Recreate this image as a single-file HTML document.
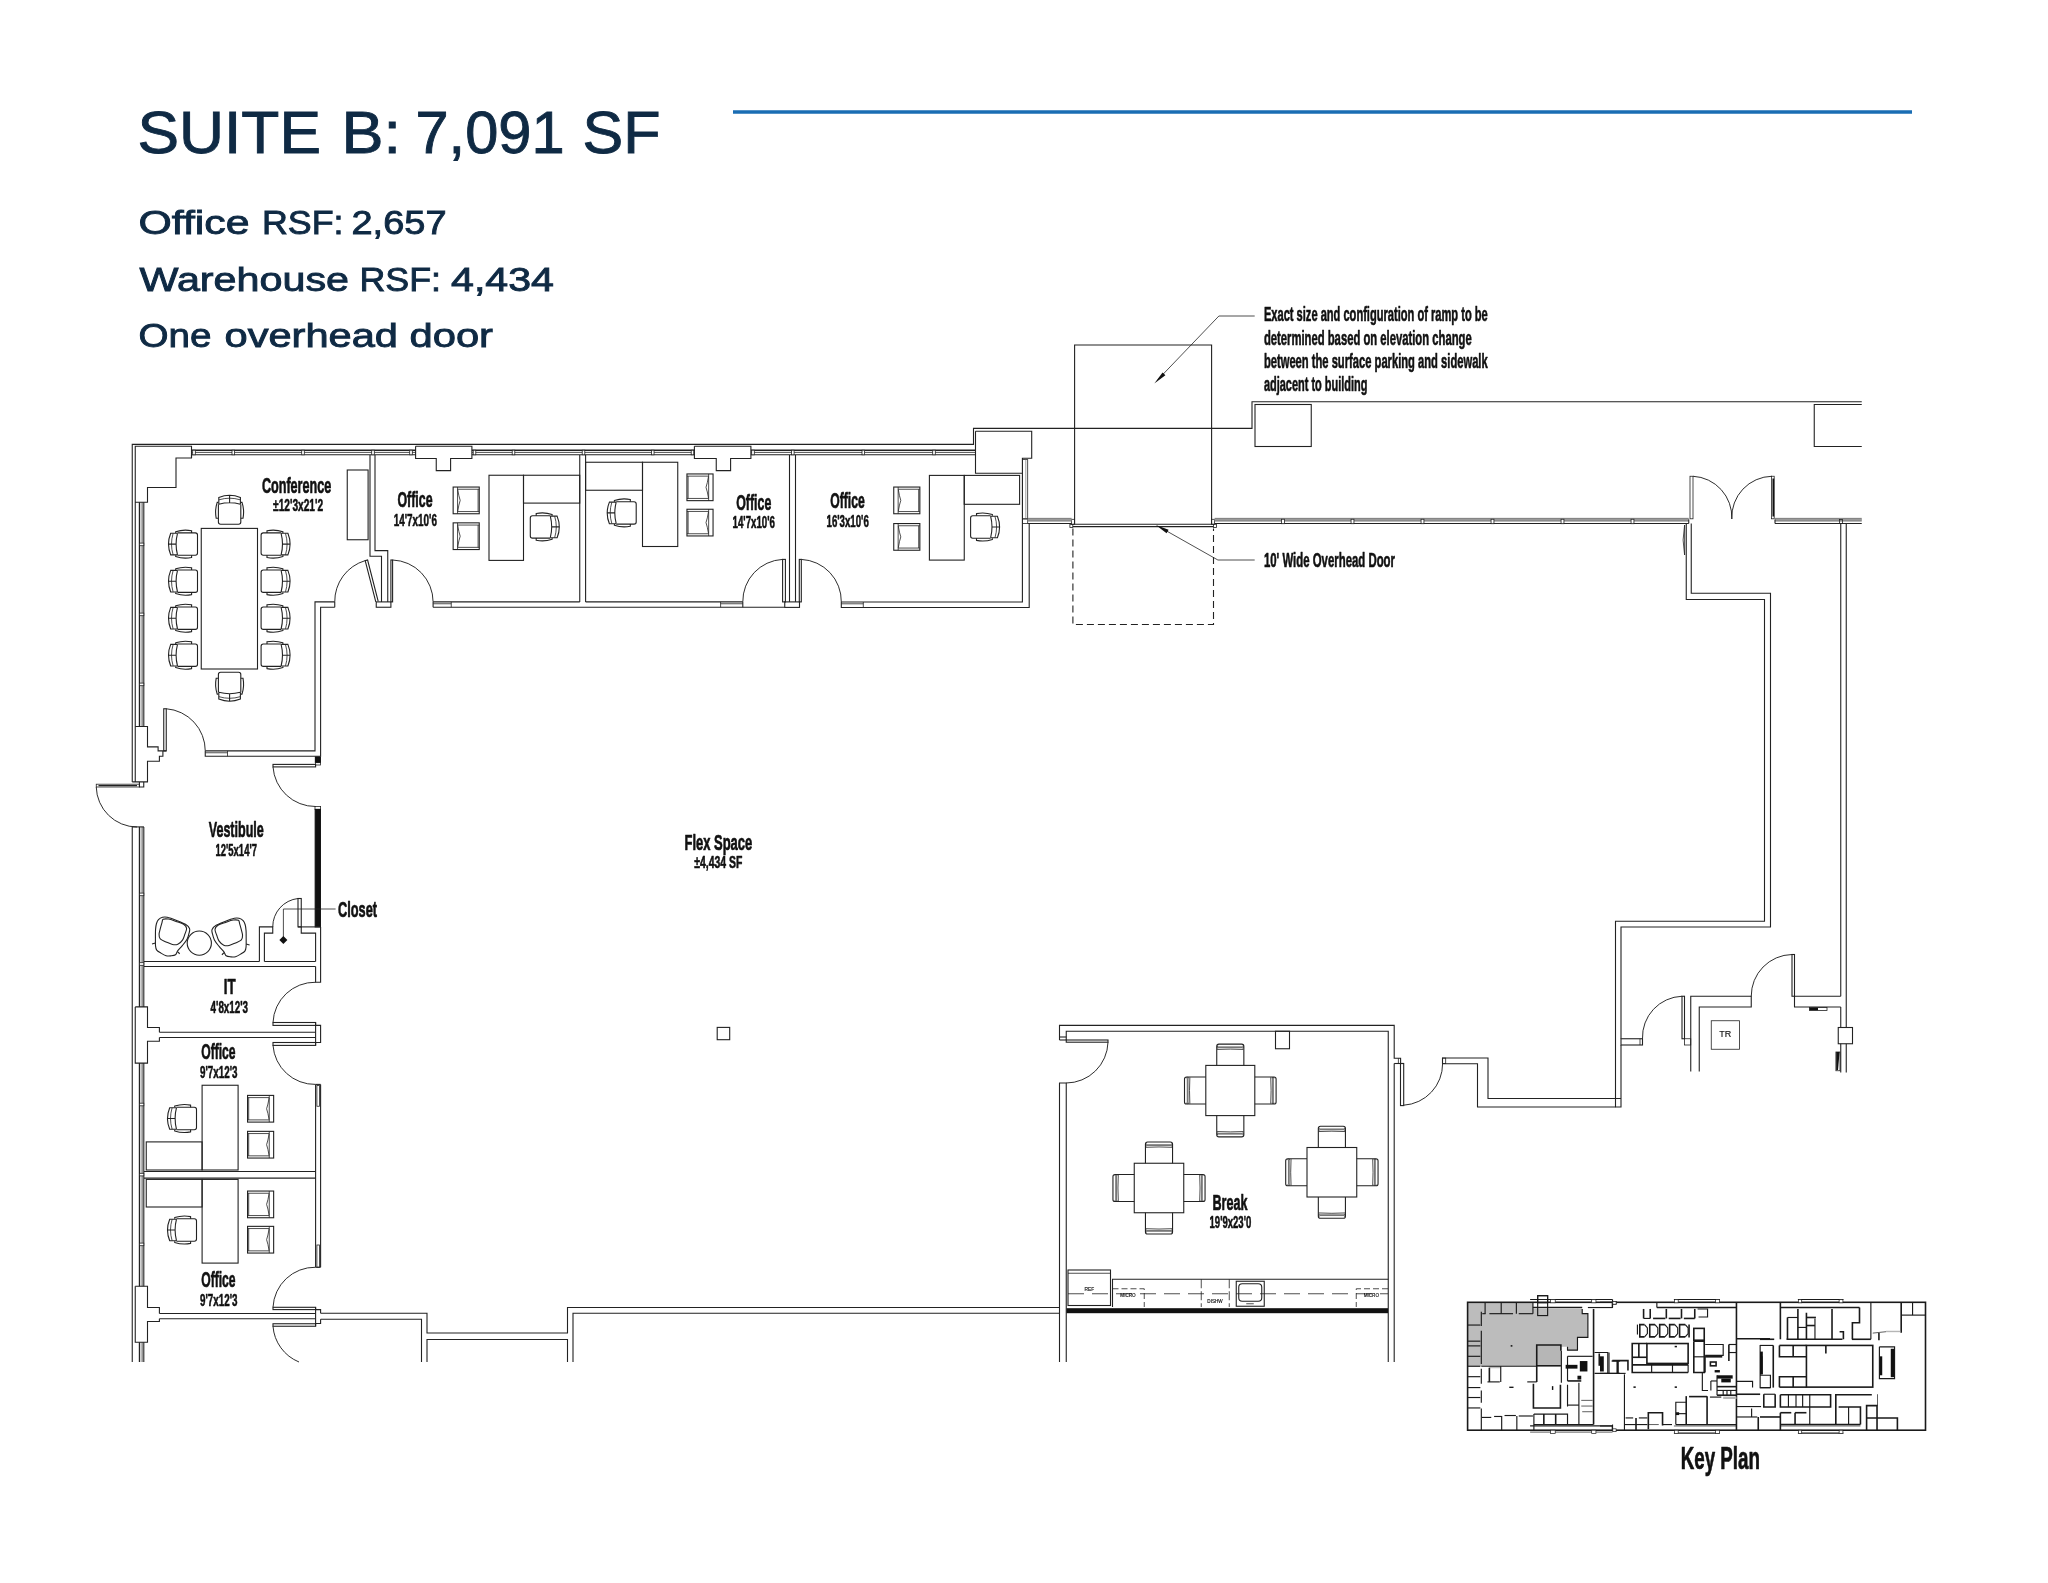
<!DOCTYPE html>
<html><head><meta charset="utf-8"><title>Suite B</title>
<style>
html,body{margin:0;padding:0;background:#fff;}
body{width:2048px;height:1583px;overflow:hidden;font-family:"Liberation Sans",sans-serif;}
svg{display:block;font-family:"Liberation Sans",sans-serif;will-change:transform;background:transparent;}
svg path,svg rect,svg circle{fill:none;stroke:#222;stroke-width:1.1;}
svg .t{stroke-width:0.8;}
svg .u{stroke-width:0.7;stroke:#777;}
svg .gb{fill:#858585;stroke:none;}
svg .gl{stroke:#a8a8a8;stroke-width:0.8;}
svg .h{stroke-width:1.4;}
svg .h2{stroke-width:1.7;stroke:#111;}
svg .a{stroke-width:0.95;}
svg .k{fill:#111;stroke:#111;}
svg .kf{fill:#111;stroke:none;}
svg .g{fill:#bcbcbc;stroke:none;}
svg .g2{fill:#b6b6b6;stroke:none;}
svg .w{fill:#fff;}
svg .kp{stroke:#1a1a1a;stroke-width:1.15;}
svg .kp2{stroke:#1a1a1a;stroke-width:1.6;}
svg .kpt{stroke:#1a1a1a;stroke-width:0.7;}
svg .ds{stroke-dasharray:7 4;}
svg text{fill:#111;stroke:none;}
svg .lb{font-weight:bold;stroke:#111;stroke-width:0.7px;stroke-linejoin:round;}
svg .ld{stroke-width:0.55px;}
svg .ln{stroke-width:0.6px;}
svg .hd{fill:#0f2a44;stroke:#0f2a44;stroke-width:0.9px;}
svg .hs{fill:#0f2a44;stroke:#0f2a44;stroke-width:0.9px;}
svg .tiny{font-weight:normal;fill:#111;stroke:#111;stroke-width:0.15px;}
svg .bl{stroke:#1a6db3;stroke-width:3.6;}
</style></head>
<body>
<svg width="2048" height="1583" viewBox="0 0 2048 1583">
<defs>
<g id="ch">
<path d="M-10.8 -5.8V-12.6Q0 -17 10.8 -12.6V-5.8M-10.8 -5.8Q0 -8.6 10.8 -5.8M0 -14.8V-7.2"/>
<path d="M-10.6 -10.2Q0 -13.4 10.6 -10.2" class="t"/>
<path d="M-11.2 -7.6H-12.4Q-15 0 -13.4 8.3H-11.2M11.2 -7.6H12.4Q15 0 13.4 8.3H11.2"/>
<path d="M-11.2 -5.8V12Q-11.2 14.2 -9 14.2H9Q11.2 14.2 11.2 12V-5.8"/>
</g>
<g id="gc">
<rect x="-13.05" y="-13.35" width="26.1" height="26.7"/>
<path d="M-8.65 -13.35V13.35M-8.65 -11.15H13.05M-8.65 11.15H13.05M11.9 -11.15V11.15" class="t"/>
<path d="M-8.5 -10.8Q-7.4 -4 -6 0Q-7.4 4 -8.5 10.8" class="t"/>
</g>
<g id="bc">
<path d="M-13.55 10.65V-8.6Q-13.55 -10.65 -11.4 -10.65H11.4Q13.55 -10.65 13.55 -8.6V10.65"/>
<path d="M-12.4 -7.5H12.4" style="stroke:#777;stroke-width:1.8"/>
<path d="M-13.2 -5.3Q0 -6 13.2 -5.3M-12.6 -9Q-13.6 -7.6 -12.6 -6.2M12.6 -9Q13.6 -7.6 12.6 -6.2" class="t"/>
</g>
<g id="lc">
<path d="M-12.5 16.5Q-17 -2 -15 -13Q-13.5 -18.5 -7 -19Q4 -20 12 -18.5Q17 -17.5 17.5 -12Q18 0 14.5 16.5Q13 20.5 8 20.5H-6Q-11.5 20.5 -12.5 16.5Z"/>
<path d="M-10 -14.5Q0 -16.5 11.5 -14.5Q14 -14 14 -11L12.5 4.5Q12 8 8.5 8H-6.5Q-10 8 -10.5 4.5L-12.5 -11Q-12.8 -14 -10 -14.5Z"/>
<path d="M-14 17.5L-17 19.5M15.5 17.5L18 19.5" class="t"/>
</g>
</defs>
<text x="137.5" y="152.5" font-size="59" textLength="183.5" lengthAdjust="spacingAndGlyphs" class="hd">SUITE</text>
<text x="341.5" y="152.5" font-size="59" textLength="59.5" lengthAdjust="spacingAndGlyphs" class="hd">B:</text>
<text x="415.5" y="152.5" font-size="59" textLength="149" lengthAdjust="spacingAndGlyphs" class="hd">7,091</text>
<text x="582.5" y="152.5" font-size="59" textLength="78" lengthAdjust="spacingAndGlyphs" class="hd">SF</text>
<text x="138.5" y="234.2" font-size="34" textLength="111" lengthAdjust="spacingAndGlyphs" class="hs">Office</text>
<text x="262" y="234.2" font-size="34" textLength="81.5" lengthAdjust="spacingAndGlyphs" class="hs">RSF:</text>
<text x="351.5" y="234.2" font-size="34" textLength="95" lengthAdjust="spacingAndGlyphs" class="hs">2,657</text>
<text x="139.5" y="291.1" font-size="34" textLength="209.5" lengthAdjust="spacingAndGlyphs" class="hs">Warehouse</text>
<text x="359.5" y="291.1" font-size="34" textLength="81.5" lengthAdjust="spacingAndGlyphs" class="hs">RSF:</text>
<text x="451" y="291.1" font-size="34" textLength="103" lengthAdjust="spacingAndGlyphs" class="hs">4,434</text>
<text x="138.5" y="347.3" font-size="34" textLength="73" lengthAdjust="spacingAndGlyphs" class="hs">One</text>
<text x="224.5" y="347.3" font-size="34" textLength="173.5" lengthAdjust="spacingAndGlyphs" class="hs">overhead</text>
<text x="409.5" y="347.3" font-size="34" textLength="83.5" lengthAdjust="spacingAndGlyphs" class="hs">door</text>
<path d="M733 112L1912 112" class="bl"/>
<path d="M132.25 1362 L132.25 826.9"/>
<path d="M132.25 781.9 L132.25 444.4 L973.5 444.4 L973.5 428.4 L1252 428.4 L1252 401.75 L1861.75 401.75"/>
<path d="M135.25 781.9 L135.25 446.25 L191.5 446.25 L191.5 458 L176 458 L176 487.5 L147.5 487.5 L147.5 502.25 L135.25 502.25"/>
<path d="M191.5 450.2L415.6 450.2" class="h"/>
<path d="M191.5 454.8L415.6 454.8"/>
<path d="M191.5 452.4L415.6 452.4" class="t"/>
<rect x="192.7" y="450.2" width="2.6" height="4.6" class="t w"/>
<rect x="232" y="450.2" width="2.6" height="4.6" class="t w"/>
<rect x="301.7" y="450.2" width="2.6" height="4.6" class="t w"/>
<rect x="371.7" y="450.2" width="2.6" height="4.6" class="t w"/>
<rect x="409.7" y="450.2" width="2.6" height="4.6" class="t w"/>
<path d="M471.9 450.2L694.4 450.2" class="h"/>
<path d="M471.9 454.8L694.4 454.8"/>
<path d="M471.9 452.4L694.4 452.4" class="t"/>
<rect x="473.2" y="450.2" width="2.6" height="4.6" class="t w"/>
<rect x="512.2" y="450.2" width="2.6" height="4.6" class="t w"/>
<rect x="582.2" y="450.2" width="2.6" height="4.6" class="t w"/>
<rect x="651.45" y="450.2" width="2.6" height="4.6" class="t w"/>
<rect x="691.2" y="450.2" width="2.6" height="4.6" class="t w"/>
<path d="M750.9 450.2L975.5 450.2" class="h"/>
<path d="M750.9 454.8L975.5 454.8"/>
<path d="M750.9 452.4L975.5 452.4" class="t"/>
<rect x="751.7" y="450.2" width="2.6" height="4.6" class="t w"/>
<rect x="791.5" y="450.2" width="2.6" height="4.6" class="t w"/>
<rect x="862" y="450.2" width="2.6" height="4.6" class="t w"/>
<rect x="932.7" y="450.2" width="2.6" height="4.6" class="t w"/>
<path d="M191.5 455L191.5 458"/>
<path d="M139.5 502.25L139.5 726.5" class="h"/>
<path d="M143.8 502.25L143.8 726.5"/>
<path d="M142.1 502.25L142.1 726.5" class="t"/>
<rect x="139.5" y="543.1" width="4.3" height="2.6" class="t w"/>
<rect x="139.5" y="613.1" width="4.3" height="2.6" class="t w"/>
<rect x="139.5" y="683.1" width="4.3" height="2.6" class="t w"/>
<path d="M139.5 826.9L139.5 1006.9" class="h"/>
<path d="M143.8 826.9L143.8 1006.9"/>
<path d="M142.1 826.9L142.1 1006.9" class="t"/>
<rect x="139.5" y="893.1" width="4.3" height="2.6" class="t w"/>
<rect x="139.5" y="962.7" width="4.3" height="2.6" class="t w"/>
<path d="M132.25 826.9L144 826.9"/>
<path d="M139.5 1063.1L139.5 1286.25" class="h"/>
<path d="M143.8 1063.1L143.8 1286.25"/>
<path d="M142.1 1063.1L142.1 1286.25" class="t"/>
<rect x="139.5" y="1103.2" width="4.3" height="2.6" class="t w"/>
<rect x="139.5" y="1173.3" width="4.3" height="2.6" class="t w"/>
<rect x="139.5" y="1243.1" width="4.3" height="2.6" class="t w"/>
<path d="M139.5 1342.25L139.5 1362" class="h"/>
<path d="M143.8 1342.25L143.8 1362"/>
<path d="M142.1 1342.25L142.1 1362" class="t"/>
<path d="M415.6 446.25 L415.6 458.5 L436.25 458.5 L436.25 470.6 L450.6 470.6 L450.6 458.5 L471.9 458.5 L471.9 446.25 L415.6 446.25"/>
<path d="M694.4 446.25 L694.4 458.5 L716.25 458.5 L716.25 470.6 L730.6 470.6 L730.6 458.5 L750.9 458.5 L750.9 446.25 L694.4 446.25"/>
<rect x="201.25" y="528.4" width="56.25" height="140.6"/>
<use href="#ch" transform="translate(183.3 544.1) rotate(-90)"/>
<use href="#ch" transform="translate(275.3 544.1) rotate(90)"/>
<use href="#ch" transform="translate(183.3 581.2) rotate(-90)"/>
<use href="#ch" transform="translate(275.3 581.2) rotate(90)"/>
<use href="#ch" transform="translate(183.3 618.2) rotate(-90)"/>
<use href="#ch" transform="translate(275.3 618.2) rotate(90)"/>
<use href="#ch" transform="translate(183.3 655.2) rotate(-90)"/>
<use href="#ch" transform="translate(275.3 655.2) rotate(90)"/>
<use href="#ch" transform="translate(229.6 510)"/>
<use href="#ch" transform="translate(229.6 686.5) rotate(180)"/>
<rect x="347.25" y="470" width="20.85" height="69.75"/>
<path d="M370 455 L370 556.25 L381.5 556.25 L381.5 601.9"/>
<path d="M375 455 L375 550.6 L387.75 550.6 L387.75 601.9"/>
<rect x="376.25" y="601.9" width="14.65" height="5.35"/>
<path d="M375.8 601.9 L365.2 560.6 L367.6 560 L378.2 601.3"/>
<path d="M365.2 560.6A42.5 42.5 0 0 0 334.75 601.9" class="a"/>
<path d="M334.75 601.9L334.75 607.25"/>
<path d="M334.75 601.9 L315 601.9 L315 750.9 L205.25 750.9"/>
<path d="M334.75 607.25 L320.6 607.25 L320.6 756.25 L205.25 756.25 L205.25 750.9"/>
<path d="M205.25 752.75L227.5 752.75" class="t"/>
<path d="M227.5 750.9L227.5 756.25" class="t"/>
<rect x="315.4" y="757" width="5" height="5.5" class="k"/>
<rect x="315.4" y="762.5" width="5" height="2.5" class="t"/>
<rect x="163.75" y="708.75" width="2.5" height="42.15"/>
<path d="M166.25 708.75A42.2 42.2 0 0 1 205.25 750.9" class="a"/>
<path d="M135.25 726.5 L147.5 726.5 L147.5 746.9 L158.1 746.9 L158.1 750.9 L166.25 750.9"/>
<path d="M162.9 750.9 L162.9 756.25 L159.4 756.25 L159.4 761.25 L147.5 761.25 L147.5 781.9 L132.25 781.9"/>
<rect x="96.25" y="784.2" width="43.15" height="2.8" class="t"/>
<path d="M98.5 785.6L137 785.6" class="h"/>
<path d="M139.4 781.9 L139.4 787 L143.75 787 L143.75 781.9"/>
<path d="M96.25 787A41 41 0 0 0 137 827" class="a"/>
<rect x="273" y="764.4" width="42.6" height="2.5"/>
<path d="M273 766.9A42.5 42.5 0 0 0 315.5 806.5" class="a"/>
<rect x="315" y="806.5" width="5.6" height="2.9" class="t"/>
<rect x="315.2" y="809.4" width="5.2" height="117.5" class="k"/>
<rect x="298" y="898.5" width="3.25" height="28.4"/>
<path d="M298 898.5A28.4 28.4 0 0 0 272.75 926.9" class="a"/>
<path d="M259.4 961.5 L259.4 926.9 L272.75 926.9 L272.75 933.1 L264.4 933.1 L264.4 961.5"/>
<path d="M298 926.9 L320.6 926.9"/>
<path d="M301.25 926.9 L301.25 933.1 L315.6 933.1 L315.6 961.5"/>
<path d="M283.4 940 L283.4 909 L335.6 909" class="t"/>
<path d="M283.4 936L287.4 940L283.4 944L279.4 940Z" class="kf"/>
<path d="M144 961.5L259.4 961.5"/>
<path d="M264.4 961.5L315.6 961.5"/>
<path d="M144 966.5L315.6 966.5"/>
<path d="M320.6 926.9 L320.6 982.25 L315.6 982.25 L315.6 966.5"/>
<circle cx="199.3" cy="943.1" r="12.1"/>
<path d="M155.54 929.6C155.71 927.26 155.94 925.41 156.42 923.75C156.91 922.09 157.45 920.72 158.47 919.65C159.5 918.57 161.11 917.69 162.57 917.3C164.04 916.91 164.92 916.77 167.26 917.3C169.6 917.84 173.61 919.35 176.63 920.52C179.66 921.7 183.27 923.01 185.42 924.33C187.57 925.65 188.89 927.07 189.52 928.43C190.16 929.8 189.62 930.78 189.23 932.53C188.84 934.29 188.3 936.83 187.18 938.98C186.06 941.13 184.05 943.47 182.49 945.42C180.93 947.37 178.98 949.13 177.81 950.69C176.63 952.26 176.63 953.94 175.46 954.79C174.29 955.65 172.34 955.7 170.78 955.85C169.21 956 167.75 956.14 166.09 955.67C164.43 955.21 162.38 953.97 160.82 953.04C159.26 952.11 157.6 951.28 156.72 950.11C155.84 948.94 155.76 948.06 155.54 946.01C155.33 943.96 155.43 940.54 155.43 937.81C155.43 935.07 155.38 931.95 155.54 929.6Z"/>
<path d="M163.16 919.35C164.23 918.77 166.28 918.72 168.43 919.06C170.58 919.4 173.51 920.52 176.05 921.4C178.59 922.28 181.91 923.16 183.66 924.33C185.42 925.5 186.4 926.77 186.59 928.43C186.79 930.09 185.52 932.34 184.84 934.29C184.15 936.24 183.66 938.49 182.49 940.15C181.32 941.81 179.47 943.52 177.81 944.25C176.15 944.98 174.49 944.93 172.53 944.54C170.58 944.15 168.14 942.83 166.09 941.91C164.04 940.98 161.4 940.25 160.23 938.98C159.06 937.71 159.04 936.05 159.06 934.29C159.08 932.53 159.86 930.39 160.35 928.43C160.84 926.48 161.52 924.09 161.99 922.57C162.46 921.06 162.09 919.94 163.16 919.35Z"/>
<path d="M246.06 930.6C245.89 928.26 245.66 926.41 245.18 924.75C244.69 923.09 244.15 921.72 243.13 920.65C242.1 919.57 240.49 918.69 239.03 918.3C237.56 917.91 236.68 917.77 234.34 918.3C232 918.84 227.99 920.35 224.97 921.52C221.94 922.7 218.33 924.01 216.18 925.33C214.03 926.65 212.71 928.07 212.08 929.43C211.44 930.8 211.98 931.78 212.37 933.53C212.76 935.29 213.3 937.83 214.42 939.98C215.54 942.13 217.55 944.47 219.11 946.42C220.67 948.37 222.62 950.13 223.79 951.69C224.97 953.26 224.97 954.94 226.14 955.79C227.31 956.65 229.26 956.7 230.82 956.85C232.39 957 233.85 957.14 235.51 956.67C237.17 956.21 239.22 954.97 240.78 954.04C242.34 953.11 244 952.28 244.88 951.11C245.76 949.94 245.84 949.06 246.06 947.01C246.27 944.96 246.17 941.54 246.17 938.81C246.17 936.07 246.22 932.95 246.06 930.6Z"/>
<path d="M238.44 920.35C237.37 919.77 235.32 919.72 233.17 920.06C231.02 920.4 228.09 921.52 225.55 922.4C223.01 923.28 219.69 924.16 217.94 925.33C216.18 926.5 215.2 927.77 215.01 929.43C214.81 931.09 216.08 933.34 216.76 935.29C217.45 937.24 217.94 939.49 219.11 941.15C220.28 942.81 222.13 944.52 223.79 945.25C225.45 945.98 227.11 945.93 229.07 945.54C231.02 945.15 233.46 943.83 235.51 942.91C237.56 941.98 240.2 941.25 241.37 939.98C242.54 938.71 242.56 937.05 242.54 935.29C242.52 933.53 241.74 931.39 241.25 929.43C240.76 927.48 240.08 925.09 239.61 923.57C239.14 922.06 239.51 920.94 238.44 920.35Z"/>
<path d="M152.03 943.96L155.43 942.96"/>
<path d="M249.57 944.96L246.17 943.96"/>
<path d="M177.51 951.57L179.68 953.74"/>
<path d="M224.09 952.57L221.92 954.74"/>
<rect x="273" y="1022.5" width="42.6" height="2.9"/>
<path d="M273 1022.5A42 42 0 0 1 315.6 982.25" class="a"/>
<path d="M315.6 1025.4 L320.6 1025.4 L320.6 1042.5 L315.6 1042.5"/>
<path d="M315.6 1022.5L315.6 1045.4"/>
<path d="M159.4 1032.25L315.6 1032.25"/>
<path d="M159.4 1037.5L315.6 1037.5"/>
<path d="M135.25 1006.9 L147.5 1006.9 L147.5 1027.5 L159.4 1027.5 L159.4 1032.25"/>
<path d="M159.4 1037.5 L159.4 1041.25 L147.5 1041.25 L147.5 1063.1 L135.25 1063.1 L135.25 1006.9"/>
<rect x="273" y="1042.5" width="42.6" height="2.9"/>
<path d="M273 1045.4A42 42 0 0 0 315.6 1084.4" class="a"/>
<path d="M315.6 1084.4 L320.6 1084.4"/>
<path d="M315.6 1084.4L315.6 1267.25"/>
<path d="M320.6 1084.4L320.6 1267.25"/>
<rect x="316.9" y="1085.5" width="2.5" height="20.75" class="t"/>
<rect x="202.1" y="1085.25" width="36" height="84.75"/>
<rect x="146.25" y="1141.9" width="55.85" height="28.1"/>
<use href="#ch" transform="translate(182.3 1118.5) rotate(-90)"/>
<use href="#gc" transform="translate(260.6 1108.75) rotate(180)"/>
<use href="#gc" transform="translate(260.6 1144.7) rotate(180)"/>
<path d="M144 1171.5L315.6 1171.5"/>
<path d="M144 1178.1L315.6 1178.1"/>
<rect x="146.25" y="1179.4" width="55.85" height="27.6"/>
<rect x="202.1" y="1179.4" width="36" height="83.7"/>
<use href="#ch" transform="translate(182.3 1230) rotate(-90)"/>
<use href="#gc" transform="translate(260.6 1204.4) rotate(180)"/>
<use href="#gc" transform="translate(260.6 1239.7) rotate(180)"/>
<rect x="316.9" y="1245" width="2.5" height="22.25" class="t"/>
<rect x="273" y="1307.3" width="42.6" height="2.3"/>
<path d="M273 1307.3A42 42 0 0 1 315.6 1267.25" class="a"/>
<path d="M315.6 1267.25L320.6 1267.25"/>
<path d="M159.4 1313.5L315.6 1313.5"/>
<path d="M159.4 1318.75L315.6 1318.75"/>
<path d="M135.25 1286.25 L147.5 1286.25 L147.5 1307.5 L159.4 1307.5 L159.4 1313.5"/>
<path d="M159.4 1318.75 L159.4 1321.5 L147.5 1321.5 L147.5 1342.25 L135.25 1342.25 L135.25 1286.25"/>
<path d="M315.6 1309.6 L320.6 1309.6 L320.6 1313.25"/>
<path d="M320.6 1319.25 L320.6 1323.5 L315.6 1323.5"/>
<path d="M315.6 1307.3L315.6 1326.25"/>
<rect x="273" y="1323.75" width="42.6" height="2.5"/>
<path d="M273 1326.25A42 42 0 0 0 299 1362" class="a"/>
<rect x="390.9" y="560" width="1.7" height="41.9"/>
<path d="M392.6 560A42 42 0 0 1 433.1 601.9" class="a"/>
<path d="M433.1 601.9L579.75 601.9"/>
<path d="M433.1 607.25L784.75 607.25"/>
<path d="M433.1 601.9 L433.1 607.25"/>
<path d="M433.1 603.75L451.25 603.75" class="t"/>
<path d="M451.25 601.9L451.25 607.25" class="t"/>
<path d="M579.75 455L579.75 601.9"/>
<path d="M585.6 455L585.6 601.9"/>
<rect x="489" y="475.25" width="34.5" height="85.15"/>
<rect x="523.5" y="475.25" width="56.25" height="27.85"/>
<use href="#ch" transform="translate(544.5 526.9) rotate(90)"/>
<use href="#gc" transform="translate(466.2 500.4)"/>
<use href="#gc" transform="translate(466.2 536.2)"/>
<rect x="585.6" y="462.25" width="56.9" height="28"/>
<rect x="642.5" y="462.25" width="35.25" height="84.25"/>
<use href="#ch" transform="translate(622 512.9) rotate(-90)"/>
<use href="#gc" transform="translate(700 487.3) rotate(180)"/>
<use href="#gc" transform="translate(700 522.6) rotate(180)"/>
<path d="M585.6 601.9L742.8 601.9"/>
<path d="M720.6 603.75L742.8 603.75" class="t"/>
<path d="M720.6 601.9L720.6 607.25" class="t"/>
<path d="M742.8 601.9L742.8 607.25"/>
<rect x="782.6" y="559.4" width="2.8" height="42.5"/>
<path d="M782.6 559.4A42 42 0 0 0 742.8 601.9" class="a"/>
<path d="M789.5 455L789.5 601.9"/>
<path d="M795.5 455L795.5 601.9"/>
<rect x="784.75" y="601.9" width="14.75" height="5.5"/>
<rect x="799.3" y="559.4" width="2" height="42.5"/>
<path d="M801.3 559.4A42 42 0 0 1 841.3 602" class="a"/>
<path d="M841.3 602 L1022.4 602 L1022.4 473.3"/>
<path d="M841.3 602 L841.3 607.5 L1029.2 607.5 L1029.2 523.6"/>
<path d="M841.3 603.8L863.3 603.8" class="t"/>
<path d="M863.3 602L863.3 607.5" class="t"/>
<rect x="929.4" y="475.4" width="34.85" height="84.7"/>
<rect x="964.25" y="475.4" width="55.35" height="28.9"/>
<use href="#ch" transform="translate(984.8 527) rotate(90)"/>
<use href="#gc" transform="translate(906.8 500.4)"/>
<use href="#gc" transform="translate(906.8 536.9)"/>
<path d="M975.5 431.3 L1031.7 431.3 L1031.7 458.2 L1022.4 458.2 L1022.4 473.3 L975.5 473.3 L975.5 431.3"/>
<rect x="1022.4" y="459.6" width="5.3" height="59.3" class="t"/>
<path d="M1025.8 459.6L1025.8 518.9" class="u"/>
<rect x="1022.4" y="518.9" width="5.3" height="4.6" class="t"/>
<path d="M1074.6 524.3 L1074.6 345 L1211.6 345 L1211.6 524.3"/>
<path d="M1072.8 524.3L1213.5 524.3"/>
<path d="M1072.8 526.6L1213.5 526.6"/>
<rect x="1071.6" y="519.3" width="3" height="5" class="t"/>
<rect x="1069.9" y="524.3" width="2.9" height="3.2" class="t"/>
<rect x="1211.6" y="519.3" width="3" height="5" class="t"/>
<rect x="1213.5" y="524.3" width="2.9" height="3.2" class="t"/>
<path d="M1072.9 528.5 L1072.9 624.5 L1213.5 624.5 L1213.5 528.5" class="ds"/>
<rect x="1027.7" y="517.85" width="43.9" height="3.7" class="gb"/>
<path d="M1027.7 519.75L1071.6 519.75" class="gl"/>
<path d="M1027.7 523.5L1071.6 523.5"/>
<rect x="1214.6" y="517.85" width="474.15" height="3.7" class="gb"/>
<path d="M1214.6 519.75L1688.75 519.75" class="gl"/>
<path d="M1214.6 523.5L1688.75 523.5"/>
<rect x="1281.55" y="519.25" width="2.9" height="4.45" class="t w"/>
<rect x="1351.05" y="519.25" width="2.9" height="4.45" class="t w"/>
<rect x="1421.05" y="519.25" width="2.9" height="4.45" class="t w"/>
<rect x="1491.05" y="519.25" width="2.9" height="4.45" class="t w"/>
<rect x="1561.05" y="519.25" width="2.9" height="4.45" class="t w"/>
<rect x="1631.05" y="519.25" width="2.9" height="4.45" class="t w"/>
<rect x="1775" y="517.85" width="86.75" height="3.7" class="gb"/>
<path d="M1775 519.75L1861.75 519.75" class="gl"/>
<path d="M1775 523.5L1861.75 523.5"/>
<rect x="1255" y="404.5" width="56.25" height="42"/>
<path d="M1861.75 404.5 L1814.25 404.5 L1814.25 446.5 L1861.75 446.5"/>
<path d="M1254.7 316 L1218.9 316 L1158 379.5" class="t"/>
<path d="M1154.3 383.4L1165.4 375.2L1162.6 372.4Z" class="kf"/>
<path d="M1254.7 560 L1217.9 560 L1162 528.4" class="t"/>
<path d="M1155.8 524.9L1166.6 533.2L1168.6 529.7Z" class="kf"/>
<rect x="1690" y="476.25" width="3" height="42.55" class="t"/>
<rect x="1771.6" y="476.25" width="2.6" height="42.55" class="t"/>
<path d="M1773.3 478.5L1773.3 516.5" class="h2"/>
<path d="M1693 476.25A41 41 0 0 1 1731.8 519" class="a"/>
<path d="M1772 476.25A41 41 0 0 0 1731.8 519" class="a"/>
<path d="M1688.75 519.5 L1688.75 523.6"/>
<path d="M1775 519.5 L1775 523.6"/>
<path d="M1840.75 523.6L1840.75 996.25"/>
<path d="M1846.25 523.6L1846.25 1072.5"/>
<path d="M1840.75 1007L1840.75 1072.5"/>
<rect x="1839.6" y="519.5" width="3" height="4.1" class="t"/>
<path d="M1686.25 523.6 L1686.25 599.5 L1764.5 599.5 L1764.5 921.25 L1615.5 921.25 L1615.5 1107 L1477.5 1107 L1477.5 1063.75 L1442.5 1063.75"/>
<path d="M1691.25 523.6 L1691.25 593.25 L1770.5 593.25 L1770.5 927 L1621 927 L1621 1038.75"/>
<path d="M1621 1045 L1621 1107 L1615.5 1107"/>
<path d="M1621 1098.5 L1488 1098.5 L1488 1058 L1442.5 1058 L1442.5 1063.75"/>
<path d="M1684.6 525Q1681.6 540 1684.6 555" class="t"/>
<path d="M1684.6 525L1684.6 555" class="t"/>
<rect x="1621" y="1038.75" width="21.5" height="6.25"/>
<path d="M1640 1038.75L1640 1045" class="t"/>
<path d="M1642.5 1038.75A41 41 0 0 1 1682 996.25" class="a"/>
<rect x="1682" y="996.25" width="2.5" height="42.5"/>
<rect x="1684.5" y="1038.75" width="6.25" height="6.25" class="t"/>
<path d="M1690.75 1071.5 L1690.75 996.25 L1751.25 996.25 L1751.25 1007 L1699.25 1007 L1699.25 1071.5"/>
<path d="M1751.25 996.25A41.5 41.5 0 0 1 1792 954.5" class="a"/>
<rect x="1792" y="954.5" width="2.5" height="41.75"/>
<path d="M1840.75 996.25 L1794.5 996.25 L1794.5 1007 L1840.75 1007"/>
<rect x="1809.5" y="1007.5" width="17.5" height="3" class="t"/>
<rect x="1809.5" y="1007.8" width="8.5" height="2.4" class="kf"/>
<rect x="1838.25" y="1027.5" width="14.25" height="16.25" class="w"/>
<rect x="1835.9" y="1052" width="4.1" height="18.75" class="t"/>
<path d="M1836.2 1052L1839.6 1052L1838 1070L1836.2 1070Z" class="kf"/>
<rect x="1711.25" y="1020.75" width="28.25" height="28.5" class="t"/>
<text x="1725.2" y="1037.4" font-size="9" text-anchor="middle" class="tiny">TR</text>
<path d="M320.6 1313.25 L427 1313.25 L427 1333 L567.5 1333 L567.5 1307.5 L1059.5 1307.5"/>
<path d="M320.6 1319.25 L421.5 1319.25 L421.5 1362"/>
<path d="M427 1362 L427 1339.5 L567.5 1339.5 L567.5 1362"/>
<path d="M573 1362 L573 1313.25 L1059.5 1313.25"/>
<rect x="717.2" y="1027.4" width="12.5" height="12.3"/>
<path d="M1059.5 1040 L1059.5 1025.4 L1394.2 1025.4 L1394.2 1058.3 L1400.6 1058.3 L1400.6 1063.5"/>
<path d="M1398.4 1058.3L1398.4 1063.5" class="t"/>
<path d="M1066.25 1040 L1066.25 1031.25 L1388.25 1031.25 L1388.25 1362"/>
<path d="M1059.5 1037 L1066.25 1037"/>
<path d="M1059.5 1040L1066.25 1040"/>
<path d="M1059.5 1362 L1059.5 1083 L1066.25 1083 L1066.25 1362"/>
<path d="M1394.2 1362 L1394.2 1063.5"/>
<rect x="1066.25" y="1040" width="41.75" height="2.2"/>
<path d="M1108 1042.2A42 42 0 0 1 1066.25 1083" class="a"/>
<rect x="1275.5" y="1031.25" width="14" height="17.5"/>
<rect x="1400.5" y="1063.5" width="3.2" height="42.1"/>
<path d="M1394.2 1063.5L1403.7 1063.5"/>
<path d="M1403.7 1105.2A41.5 41.5 0 0 0 1442.6 1063.5" class="a"/>
<rect x="1442.6" y="1058.1" width="3.1" height="5.4" class="t"/>
<rect x="1205.8" y="1065.4" width="49" height="50.2"/>
<use href="#bc" transform="translate(1230.3 1054.75)"/>
<use href="#bc" transform="translate(1230.3 1126.25) rotate(180)"/>
<use href="#bc" transform="translate(1195.15 1090.5) rotate(-90)"/>
<use href="#bc" transform="translate(1265.45 1090.5) rotate(90)"/>
<rect x="1134.25" y="1163.25" width="49.5" height="49.5"/>
<use href="#bc" transform="translate(1159 1152.6)"/>
<use href="#bc" transform="translate(1159 1223.4) rotate(180)"/>
<use href="#bc" transform="translate(1123.6 1188) rotate(-90)"/>
<use href="#bc" transform="translate(1194.4 1188) rotate(90)"/>
<rect x="1307" y="1147.5" width="49.75" height="49.5"/>
<use href="#bc" transform="translate(1331.88 1136.85)"/>
<use href="#bc" transform="translate(1331.88 1207.65) rotate(180)"/>
<use href="#bc" transform="translate(1296.35 1172.25) rotate(-90)"/>
<use href="#bc" transform="translate(1367.4 1172.25) rotate(90)"/>
<path d="M1112.5 1307 L1112.5 1279.25 L1388.25 1279.25"/>
<rect x="1066.5" y="1308.2" width="321.5" height="5" class="kf"/>
<rect x="1068" y="1270" width="42.5" height="35.5"/>
<path d="M1068 1273.25L1110.5 1273.25" class="t"/>
<path d="M1068 1293.75L1388 1293.75" class="t" stroke-dasharray="16 8"/>
<path d="M1201.25 1279.25L1201.25 1307" class="t" stroke-dasharray="9 3"/>
<path d="M1229.25 1279.25L1229.25 1307" class="t" stroke-dasharray="9 3"/>
<path d="M1112.5 1288.75 L1144.25 1288.75 L1144.25 1307" class="t" stroke-dasharray="6 3"/>
<path d="M1388 1288.75 L1356.25 1288.75 L1356.25 1307" class="t" stroke-dasharray="6 3"/>
<rect x="1236.25" y="1281.25" width="28" height="25"/>
<rect x="1238.75" y="1283.75" width="23" height="17.5" rx="3.5" ry="3.5"/>
<path d="M1246.25 1303.75L1253.75 1303.75" class="t"/>
<text x="1089.3" y="1291" font-size="4.8" text-anchor="middle" class="tiny">REF</text>
<text x="1128" y="1297" font-size="4.6" text-anchor="middle" class="tiny">MICRO</text>
<text x="1371.3" y="1297" font-size="4.6" text-anchor="middle" class="tiny">MICRO</text>
<text x="1215" y="1303" font-size="4.6" text-anchor="middle" class="tiny">DISHW</text>
<text x="261.9" y="492.5" font-size="22.2" textLength="69.35" lengthAdjust="spacingAndGlyphs" class="lb">Conference</text>
<text x="273.1" y="511.25" font-size="15.8" textLength="50" lengthAdjust="spacingAndGlyphs" class="lb ld">±12'3x21'2</text>
<text x="397.5" y="506.5" font-size="22.2" textLength="35" lengthAdjust="spacingAndGlyphs" class="lb">Office</text>
<text x="393.75" y="525.6" font-size="15.8" textLength="43.15" lengthAdjust="spacingAndGlyphs" class="lb ld">14'7x10'6</text>
<text x="736.25" y="509.6" font-size="22.2" textLength="35" lengthAdjust="spacingAndGlyphs" class="lb">Office</text>
<text x="732.5" y="528.4" font-size="15.8" textLength="42.5" lengthAdjust="spacingAndGlyphs" class="lb ld">14'7x10'6</text>
<text x="830.3" y="507.8" font-size="22.2" textLength="34.4" lengthAdjust="spacingAndGlyphs" class="lb">Office</text>
<text x="826.5" y="526.8" font-size="15.8" textLength="42.3" lengthAdjust="spacingAndGlyphs" class="lb ld">16'3x10'6</text>
<text x="208.75" y="837.25" font-size="22.2" textLength="55" lengthAdjust="spacingAndGlyphs" class="lb">Vestibule</text>
<text x="215.6" y="855.6" font-size="15.8" textLength="41.3" lengthAdjust="spacingAndGlyphs" class="lb ld">12'5x14'7</text>
<text x="338" y="916.5" font-size="22.2" textLength="39" lengthAdjust="spacingAndGlyphs" class="lb">Closet</text>
<text x="223.75" y="994.4" font-size="22.2" textLength="11.85" lengthAdjust="spacingAndGlyphs" class="lb">IT</text>
<text x="210.6" y="1013.1" font-size="15.8" textLength="37.5" lengthAdjust="spacingAndGlyphs" class="lb ld">4'8x12'3</text>
<text x="201.25" y="1059" font-size="22.2" textLength="34.35" lengthAdjust="spacingAndGlyphs" class="lb">Office</text>
<text x="200" y="1077.5" font-size="15.8" textLength="37.5" lengthAdjust="spacingAndGlyphs" class="lb ld">9'7x12'3</text>
<text x="201.25" y="1286.9" font-size="22.2" textLength="34.35" lengthAdjust="spacingAndGlyphs" class="lb">Office</text>
<text x="200" y="1305.6" font-size="15.8" textLength="37.5" lengthAdjust="spacingAndGlyphs" class="lb ld">9'7x12'3</text>
<text x="684.5" y="849.75" font-size="22.2" textLength="67.7" lengthAdjust="spacingAndGlyphs" class="lb">Flex Space</text>
<text x="694.2" y="868.1" font-size="15.8" textLength="48.1" lengthAdjust="spacingAndGlyphs" class="lb ld">±4,434 SF</text>
<text x="1212.5" y="1209.5" font-size="22.2" textLength="35" lengthAdjust="spacingAndGlyphs" class="lb">Break</text>
<text x="1209.5" y="1228" font-size="15.8" textLength="41.75" lengthAdjust="spacingAndGlyphs" class="lb ld">19'9x23'0</text>
<text x="1680.7" y="1469.2" font-size="30.7" textLength="79.3" lengthAdjust="spacingAndGlyphs" class="lb">Key Plan</text>
<text x="1263.9" y="321.2" font-size="19.4" textLength="223.8" lengthAdjust="spacingAndGlyphs" class="lb ln">Exact size and configuration of ramp to be</text>
<text x="1263.9" y="344.5" font-size="19.4" textLength="207.8" lengthAdjust="spacingAndGlyphs" class="lb ln">determined based on elevation change</text>
<text x="1263.9" y="367.7" font-size="19.4" textLength="223.8" lengthAdjust="spacingAndGlyphs" class="lb ln">between the surface parking and sidewalk</text>
<text x="1263.9" y="391" font-size="19.4" textLength="103.6" lengthAdjust="spacingAndGlyphs" class="lb ln">adjacent to building</text>
<text x="1263.9" y="567" font-size="19.4" textLength="131.1" lengthAdjust="spacingAndGlyphs" class="lb ln">10' Wide Overhead Door</text>
<path d="M1468.05 1302.79 L1532.94 1302.79 L1532.94 1308.95 L1582.21 1308.95 L1582.21 1313.68 L1587.89 1313.68 L1587.89 1337.37 L1577.47 1337.37 L1577.47 1350.16 L1567.52 1350.16 L1567.52 1346.84 L1560.89 1346.84 L1560.89 1365.79 L1500.74 1366.26 L1500.74 1368.15 L1489.37 1368.15 L1489.37 1366.26 L1468.05 1366.26 Z" class="g"/>
<path d="M1536.73 1345.42 L1560.89 1345.42 L1560.89 1365.79 L1536.73 1365.79 Z" class="g2"/>
<rect x="1537.68" y="1295.68" width="9.95" height="7.1" class="kp w"/>
<rect x="1537.68" y="1295.68" width="9.95" height="19.89" class="kp"/>
<rect x="1467.6" y="1302.3" width="457.9" height="127.9" class="kp2"/>
<path d="M1530.1 1299.47 L1612.52 1299.47" class="kp"/>
<path d="M1532.94 1307.53 L1582.21 1307.53" class="kp2"/>
<path d="M1587.89 1307.53 L1612.52 1307.53" class="kp"/>
<rect x="1550.47" y="1299.47" width="4.74" height="3.32" class="kpt w"/>
<rect x="1591.68" y="1299.47" width="4.26" height="3.32" class="kpt w"/>
<rect x="1612.52" y="1301.37" width="3.79" height="2.84" class="kpt w"/>
<path d="M1612.52 1299.47 L1612.52 1307.53" class="kp"/>
<path d="M1485.1 1302.79 L1485.1 1313.68" class="kp"/>
<path d="M1501.21 1302.79 L1501.21 1313.68" class="kp"/>
<path d="M1516.37 1302.79 L1516.37 1313.68" class="kp"/>
<path d="M1532.94 1302.79 L1532.94 1313.68" class="kp"/>
<path d="M1482.26 1313.68 L1485.58 1313.68" class="kp"/>
<path d="M1489.37 1313.68 L1513.05 1313.68" class="kp"/>
<path d="M1518.73 1313.68 L1532.94 1313.68" class="kp"/>
<path d="M1481.31 1311.79 L1481.31 1326" class="kp"/>
<path d="M1481.31 1330.74 L1481.31 1363.89" class="kp"/>
<path d="M1481.31 1368.63 L1481.31 1383.79" class="kp"/>
<path d="M1481.31 1390.42 L1481.31 1402.73" class="kp"/>
<path d="M1481.31 1408.42 L1481.31 1430.2" class="kp"/>
<path d="M1468.05 1325.05 L1480.37 1325.05" class="kp"/>
<path d="M1468.05 1341.16 L1480.37 1341.16" class="kp"/>
<path d="M1468.05 1345.89 L1480.37 1345.89" class="kp"/>
<path d="M1468.05 1356.31 L1480.37 1356.31" class="kp"/>
<path d="M1468.05 1366.26 L1480.37 1366.26" class="kp"/>
<path d="M1468.05 1376.68 L1480.37 1376.68" class="kp"/>
<path d="M1468.05 1387.57 L1480.37 1387.57" class="kp"/>
<path d="M1468.05 1397.52 L1480.37 1397.52" class="kp"/>
<path d="M1468.05 1407.94 L1480.37 1407.94" class="kp"/>
<path d="M1582.21 1308.95 L1582.21 1313.68 L1587.89 1313.68 L1587.89 1337.37 L1577.47 1337.37 L1577.47 1350.16 L1567.52 1350.16 L1567.52 1346.84" class="kp"/>
<path d="M1536.73 1381.89 L1536.73 1344.95 L1560.89 1344.95 L1560.89 1350.63" class="kp2"/>
<path d="M1536.73 1365.79 L1560.89 1365.79" class="kp2"/>
<path d="M1481.31 1366.26 L1536.73 1366.26" class="kp"/>
<path d="M1593.57 1308.95 L1593.57 1424.52" class="kp2"/>
<path d="M1489.37 1367.68 L1489.37 1381.89" class="kp2"/>
<path d="M1487.47 1381.89 L1499.79 1381.89" class="kp"/>
<path d="M1500.74 1366.26 L1500.74 1381.89" class="kp"/>
<path d="M1527.26 1381.89 L1536.73 1381.89" class="kp"/>
<path d="M1533.42 1383.79 L1533.42 1407.94 L1560.42 1407.94 L1560.42 1384.73" class="kp2"/>
<path d="M1533.89 1414.1 L1567.52 1414.1 L1567.52 1424.52" class="kp"/>
<path d="M1543.84 1414.1 L1543.84 1424.52" class="kp2"/>
<path d="M1555.68 1414.1 L1555.68 1424.52" class="kp2"/>
<path d="M1533.89 1424.52 L1593.57 1424.52" class="kp"/>
<path d="M1533.89 1414.1 L1533.89 1430.2" class="kp"/>
<path d="M1501.68 1415.99 L1501.68 1430.2" class="kp"/>
<path d="M1516.84 1415.99 L1516.84 1430.2" class="kp"/>
<path d="M1481.79 1417.42 L1491.26 1417.42" class="kp"/>
<path d="M1494.1 1416.47 L1501.68 1416.47" class="kp"/>
<path d="M1504.52 1415.52 L1515.89 1415.52" class="kp"/>
<path d="M1518.73 1415.99 L1532.94 1415.99" class="kp"/>
<path d="M1530.1 1425.94 L1612.52 1425.94" class="kp"/>
<path d="M1530.1 1432.1 L1612.52 1432.1" class="kpt"/>
<path d="M1612.52 1424.52 L1612.52 1431.15" class="kp"/>
<rect x="1550.47" y="1430.2" width="4.74" height="3.32" class="kpt w"/>
<rect x="1591.68" y="1430.2" width="4.26" height="3.32" class="kpt w"/>
<path d="M1567.52 1356.31 L1592.63 1356.31" class="kp"/>
<path d="M1567.52 1356.31 L1567.52 1380.94" class="kp"/>
<path d="M1567.52 1380.94 L1581.26 1380.94" class="kp2"/>
<rect x="1565.63" y="1364.84" width="11.84" height="3.79" class="kf"/>
<rect x="1579.84" y="1361.05" width="7.58" height="10.42" class="kf"/>
<rect x="1577.47" y="1375.73" width="3.79" height="3.79" class="kf"/>
<path d="M1561.36 1350.63 L1561.36 1382.84" class="kp"/>
<path d="M1567.52 1384.73 L1567.52 1406.52" class="kp"/>
<path d="M1578.89 1382.84 L1578.89 1424.52" class="kp"/>
<path d="M1567.52 1405.1 L1578.89 1405.1" class="kp"/>
<path d="M1581.26 1400.36 L1592.63 1400.36" class="kpt"/>
<path d="M1581.26 1406.05 L1592.63 1406.05" class="kpt"/>
<path d="M1582.21 1411.73 L1592.63 1411.73" class="kpt"/>
<path d="M1594.52 1352.52 L1607.78 1352.52 L1607.78 1373.36 L1594.52 1373.36" class="kp"/>
<path d="M1599.26 1353.47 L1599.26 1365.79" class="kp2"/>
<path d="M1611.57 1361.05 L1620.1 1361.05" class="kp"/>
<path d="M1617.26 1361.05 L1617.26 1373.36" class="kp2"/>
<path d="M1607.78 1373.36 L1620.1 1373.36" class="kp"/>
<rect x="1509.26" y="1386.63" width="4.26" height="1.33" class="kf"/>
<rect x="1551.89" y="1386.15" width="1.42" height="3.79" class="kf"/>
<rect x="1510.68" y="1345.13" width="1.71" height="1.52" class="kf"/>
<path d="M1600 1302.32 L1612.32 1302.32" class="kp"/>
<path d="M1600 1307.53 L1612.32 1307.53 L1612.32 1302.32" class="kp"/>
<rect x="1612.79" y="1301.37" width="3.32" height="2.84" class="kpt w"/>
<path d="M1673.91 1299.48 L1719.87 1299.48" class="kp"/>
<path d="M1656.86 1302.32 L1656.86 1307.53" class="kp"/>
<path d="M1656.86 1307.53 L1736.45 1307.53" class="kp2"/>
<rect x="1674.39" y="1299.48" width="3.79" height="3.32" class="kpt w"/>
<rect x="1715.61" y="1299.48" width="3.79" height="3.32" class="kpt w"/>
<path d="M1736.45 1302.32 L1736.45 1430.24" class="kp2"/>
<path d="M1624.45 1374.34 L1624.45 1430.24" class="kp"/>
<path d="M1643.59 1308.95 L1643.59 1318.43" class="kp2"/>
<path d="M1650.22 1308.95 L1650.22 1318.43" class="kp2"/>
<path d="M1666.33 1308.95 L1666.33 1318.43" class="kp2"/>
<path d="M1681.49 1308.95 L1681.49 1318.43" class="kp2"/>
<path d="M1694.76 1308.95 L1694.76 1318.43" class="kp2"/>
<path d="M1643.59 1318.43 L1650.22 1318.43" class="kp"/>
<path d="M1653.07 1318.43 L1665.38 1318.43" class="kp2"/>
<path d="M1668.7 1318.43 L1680.55 1318.43" class="kp2"/>
<path d="M1683.86 1318.43 L1694.76 1318.43" class="kp2"/>
<path d="M1697.6 1308.95 L1707.55 1308.95 L1707.55 1317.01 L1698.55 1317.01" class="kp"/>
<path d="M1644.54 1324.59 L1639.8 1324.59 L1639.8 1336.91 L1644.54 1336.91" class="kp2"/>
<path d="M1644.54 1324.59 L1647.38 1327.9 L1647.38 1333.59 L1644.54 1336.91" class="kp"/>
<path d="M1654.96 1324.59 L1649.75 1324.59 L1649.75 1336.91 L1654.96 1336.91" class="kp2"/>
<path d="M1654.96 1324.59 L1657.8 1327.9 L1657.8 1333.59 L1654.96 1336.91" class="kp"/>
<path d="M1664.91 1324.59 L1659.7 1324.59 L1659.7 1336.91 L1664.91 1336.91" class="kp2"/>
<path d="M1664.91 1324.59 L1667.75 1327.9 L1667.75 1333.59 L1664.91 1336.91" class="kp"/>
<path d="M1674.86 1324.59 L1669.65 1324.59 L1669.65 1336.91 L1674.86 1336.91" class="kp2"/>
<path d="M1674.86 1324.59 L1677.7 1327.9 L1677.7 1333.59 L1674.86 1336.91" class="kp"/>
<path d="M1685.28 1324.59 L1679.6 1324.59 L1679.6 1336.91 L1685.28 1336.91" class="kp2"/>
<path d="M1685.28 1324.59 L1688.13 1327.9 L1688.13 1333.59 L1685.28 1336.91" class="kp"/>
<path d="M1637.43 1324.59 L1637.43 1334.54" class="kp"/>
<path d="M1689.07 1324.59 L1689.07 1337.38" class="kp2"/>
<rect x="1693.81" y="1328.38" width="10.42" height="11.84" class="kp2"/>
<path d="M1693.81 1341.17 L1704.24 1341.17 L1704.24 1372.44 L1693.81 1372.44 L1693.81 1341.17" class="kp2"/>
<path d="M1693.81 1356.81 L1704.24 1356.81" class="kp"/>
<rect x="1646.91" y="1343.54" width="41.22" height="19.9" class="kp2"/>
<path d="M1646.91 1343.54 L1632.22 1343.54 L1632.22 1372.44 L1688.13 1372.44" class="kp2"/>
<path d="M1632.22 1357.28 L1646.91 1357.28" class="kp2"/>
<path d="M1632.22 1364.86 L1688.13 1364.86" class="kp2"/>
<path d="M1638.85 1343.54 L1638.85 1357.28" class="kp2"/>
<path d="M1651.64 1364.86 L1651.64 1372.44" class="kp"/>
<path d="M1672.49 1364.86 L1672.49 1372.44" class="kp"/>
<path d="M1688.13 1364.86 L1688.13 1372.44" class="kp"/>
<path d="M1612.32 1360.6 L1627.95 1360.6 L1627.95 1370.55" class="kp2"/>
<path d="M1618 1360.6 L1618 1373.39" class="kp2"/>
<path d="M1600 1373.39 L1625.59 1373.39" class="kp"/>
<path d="M1609 1352.54 L1609 1373.39" class="kp"/>
<rect x="1600" y="1356.33" width="3.79" height="15.16" class="kf"/>
<path d="M1705.18 1344.49 L1723.19 1344.49 L1723.19 1355.38 L1705.18 1355.38" class="kp"/>
<path d="M1705.18 1355.38 L1705.18 1372.44" class="kp"/>
<path d="M1705.18 1356.81 L1722.24 1356.81" class="kp2"/>
<rect x="1710.4" y="1362.02" width="5.69" height="3.79" class="kp2"/>
<rect x="1714.66" y="1370.07" width="5.21" height="2.37" class="kf"/>
<path d="M1728.87 1344.49 L1736.45 1344.49" class="kp"/>
<path d="M1728.87 1344.49 L1728.87 1361.07" class="kp2"/>
<path d="M1728.87 1352.54 L1736.45 1352.54" class="kp"/>
<rect x="1717.03" y="1375.28" width="15.64" height="3.32" class="kf"/>
<rect x="1721.29" y="1378.6" width="9.48" height="3.79" class="kf"/>
<path d="M1717.03 1386.65 L1736.45 1386.65" class="kp2"/>
<path d="M1717.03 1390.45 L1736.45 1390.45" class="kp"/>
<path d="M1717.03 1375.28 L1717.03 1395.18" class="kp"/>
<path d="M1723.19 1390.45 L1723.19 1395.18" class="kp"/>
<path d="M1726.98 1390.45 L1726.98 1395.18" class="kp"/>
<path d="M1730.77 1390.45 L1730.77 1395.18" class="kp"/>
<path d="M1717.03 1395.18 L1736.45 1395.18" class="kp2"/>
<rect x="1723.19" y="1396.6" width="13.27" height="2.37" class="g2"/>
<path d="M1702.34 1372.44 L1702.34 1390.45 L1708.03 1390.45" class="kp"/>
<path d="M1710.87 1380.97 L1717.03 1380.97" class="kp"/>
<path d="M1710.87 1380.97 L1710.87 1390.45" class="kp"/>
<path d="M1689.07 1396.6 L1707.08 1396.6" class="kp2"/>
<path d="M1686.23 1396.13 L1686.23 1424.56" class="kp2"/>
<path d="M1707.08 1396.13 L1707.08 1424.56" class="kp2"/>
<path d="M1709.92 1397.08 L1721.29 1397.08" class="kp"/>
<path d="M1675.81 1424.56 L1675.81 1402.29 L1686.23 1402.29" class="kp"/>
<path d="M1677.7 1413.66 L1686.23 1413.66" class="kp"/>
<rect x="1675.81" y="1412.24" width="3.32" height="2.84" class="kf"/>
<path d="M1624.45 1424.56 L1647.38 1424.56" class="kp"/>
<path d="M1662.54 1424.56 L1672.02 1424.56" class="kp"/>
<path d="M1675.81 1424.56 L1736.45 1424.56" class="kp"/>
<path d="M1648.33 1429.3 L1648.33 1412.71 L1662.54 1412.71 L1662.54 1425.51" class="kp2"/>
<path d="M1648.33 1424.56 L1658.75 1424.56" class="kpt"/>
<path d="M1636.01 1417.93 L1636.01 1430.24" class="kp2"/>
<path d="M1625.59 1417.93 L1633.17 1417.93" class="kp"/>
<path d="M1638.85 1417.93 L1647.38 1417.93" class="kp"/>
<path d="M1600 1425.98 L1612.32 1425.98 L1612.32 1430.24" class="kp"/>
<rect x="1612.79" y="1428.82" width="3.32" height="2.84" class="kpt w"/>
<path d="M1673.91 1433.09 L1719.87 1433.09" class="kp"/>
<path d="M1673.91 1425.98 L1736.45 1425.98" class="kpt"/>
<rect x="1674.39" y="1430.24" width="3.79" height="3.32" class="kpt w"/>
<rect x="1715.61" y="1430.24" width="3.79" height="3.32" class="kpt w"/>
<rect x="1633.45" y="1386.37" width="2.27" height="1.52" class="kf"/>
<rect x="1674.67" y="1386.37" width="2.27" height="1.52" class="kf"/>
<rect x="1674.67" y="1345.81" width="2.27" height="1.52" class="kf"/>
<path d="M1736.45 1338.8 L1770 1338.8" class="kp2"/>
<path d="M1736.45 1381.44 L1752.56 1381.44 L1752.56 1387.6" class="kp"/>
<path d="M1736.45 1394.24 L1760.14 1394.24" class="kp2"/>
<path d="M1736.45 1406.55 L1761.09 1406.55" class="kp"/>
<path d="M1736.45 1416.98 L1757.3 1416.98" class="kp"/>
<path d="M1760.14 1344.96 L1760.14 1387.6 L1770 1387.6" class="kp"/>
<rect x="1760.14" y="1356.33" width="2.37" height="18" class="kf"/>
<path d="M1758.25 1416.98 L1758.25 1430.24" class="kp2"/>
<path d="M1751.62 1408.45 L1751.62 1416.98" class="kp"/>
<path d="M1780.37 1302.32 L1780.37 1339.28" class="kp2"/>
<path d="M1780.37 1307.53 L1859.5 1307.53" class="kp2"/>
<path d="M1797.9 1299.48 L1843.39 1299.48" class="kp"/>
<rect x="1798.38" y="1299.48" width="3.32" height="3.32" class="kpt w"/>
<rect x="1839.12" y="1299.48" width="3.79" height="3.32" class="kpt w"/>
<path d="M1760 1339.28 L1774.21 1339.28" class="kp2"/>
<path d="M1786.53 1339.28 L1842.44 1339.28" class="kp2"/>
<path d="M1851.92 1339.28 L1870.87 1339.28" class="kp2"/>
<path d="M1787.48 1317.48 L1787.48 1339.28" class="kp2"/>
<path d="M1787.48 1317.48 L1797.9 1317.48" class="kp"/>
<path d="M1797.9 1308.95 L1797.9 1339.28" class="kp2"/>
<path d="M1806.43 1312.74 L1806.43 1339.28" class="kp2"/>
<path d="M1806.43 1317.48 L1815.91 1317.48" class="kp2"/>
<path d="M1806.43 1325.53 L1814.96 1325.53" class="kp2"/>
<path d="M1814.96 1318.43 L1814.96 1339.28" class="kp"/>
<path d="M1797.9 1327.43 L1806.43 1327.43" class="kp"/>
<path d="M1832.02 1308.95 L1832.02 1339.28" class="kp2"/>
<path d="M1859.5 1307.53 L1859.5 1322.69 L1852.39 1322.69 L1852.39 1339.28" class="kp2"/>
<path d="M1839.6 1331.69 L1843.39 1331.69 L1843.39 1339.28" class="kp2"/>
<path d="M1870.87 1302.32 L1870.87 1339.28" class="kp"/>
<path d="M1901.19 1302.32 L1901.19 1332.64" class="kp2"/>
<path d="M1872.76 1333.12 L1886.03 1331.69" class="kpt"/>
<rect x="1886.03" y="1330.75" width="14.21" height="1.42" class="g2"/>
<path d="M1878.92 1333.12 L1878.92 1340.22" class="kp2"/>
<path d="M1901.19 1315.11 L1925.36 1315.11" class="kp"/>
<path d="M1912.56 1302.32 L1912.56 1315.11" class="kp"/>
<rect x="1806.43" y="1345.43" width="66.33" height="41.69" class="kp2"/>
<path d="M1779.43 1345.43 L1779.43 1356.81 L1806.43 1356.81" class="kp2"/>
<path d="M1779.43 1345.43 L1806.43 1345.43" class="kp2"/>
<path d="M1793.17 1345.43 L1793.17 1356.81" class="kp2"/>
<path d="M1779.43 1387.13 L1779.43 1376.71 L1806.43 1376.71" class="kp2"/>
<path d="M1779.43 1387.13 L1806.43 1387.13" class="kp2"/>
<path d="M1793.17 1376.71 L1793.17 1387.13" class="kp2"/>
<path d="M1825.86 1345.43 L1825.86 1353.49" class="kp2"/>
<path d="M1760 1345.43 L1773.27 1345.43" class="kp"/>
<path d="M1773.27 1345.43 L1773.27 1387.6" class="kp2"/>
<rect x="1760" y="1351.59" width="2.84" height="22.74" class="kf"/>
<path d="M1760 1387.6 L1770.42 1387.6 L1770.42 1375.28 L1760 1375.28" class="kp"/>
<path d="M1780.37 1394.71 L1830.6 1394.71 L1830.6 1407.03 L1780.37 1407.03 L1780.37 1394.71" class="kp2"/>
<path d="M1788.43 1394.71 L1788.43 1407.03" class="kp"/>
<path d="M1796.01 1394.71 L1796.01 1407.03" class="kp"/>
<path d="M1802.64 1394.71 L1802.64 1407.03" class="kp"/>
<path d="M1809.75 1394.71 L1809.75 1407.03" class="kp"/>
<path d="M1763.79 1394.24 L1775.16 1394.24" class="kp"/>
<path d="M1763.79 1394.24 L1763.79 1407.03 L1775.16 1407.03 L1775.16 1394.24" class="kp2"/>
<path d="M1835.81 1424.56 L1835.81 1394.71 L1871.82 1394.71" class="kp2"/>
<path d="M1838.65 1407.03 L1860.45 1407.03 L1860.45 1424.56" class="kp2"/>
<path d="M1848.6 1407.03 L1848.6 1424.56" class="kp"/>
<path d="M1780.37 1412.71 L1791.27 1412.71" class="kp2"/>
<path d="M1795.06 1412.71 L1806.43 1412.71" class="kp2"/>
<path d="M1795.06 1412.71 L1795.06 1424.56" class="kp2"/>
<path d="M1809.75 1407.03 L1809.75 1424.56" class="kp"/>
<path d="M1780.37 1412.71 L1780.37 1430.24" class="kp2"/>
<path d="M1760 1416.98 L1780.37 1416.98" class="kp2"/>
<path d="M1780.37 1424.56 L1860.45 1424.56" class="kp2"/>
<path d="M1780.37 1425.98 L1860.45 1425.98" class="kpt"/>
<path d="M1866.6 1430.24 L1866.6 1405.61 L1877.03 1405.61 L1877.03 1430.24" class="kp2"/>
<path d="M1866.6 1417.93 L1897.4 1417.93 L1897.4 1430.24" class="kp2"/>
<path d="M1877.5 1394.24 L1877.5 1405.61" class="kpt"/>
<path d="M1879.4 1346.86 L1894.56 1346.86 L1894.56 1378.6 L1879.4 1378.6 L1879.4 1346.86" class="kp"/>
<rect x="1890.77" y="1348.75" width="3.32" height="28.43" class="kf"/>
<rect x="1879.87" y="1356.33" width="2.37" height="18.95" class="kf"/>
<path d="M1797.9 1433.09 L1843.39 1433.09" class="kp"/>
<rect x="1798.38" y="1430.24" width="3.32" height="3.32" class="kpt w"/>
<rect x="1839.12" y="1430.24" width="3.79" height="3.32" class="kpt w"/>
</svg>
</body></html>
